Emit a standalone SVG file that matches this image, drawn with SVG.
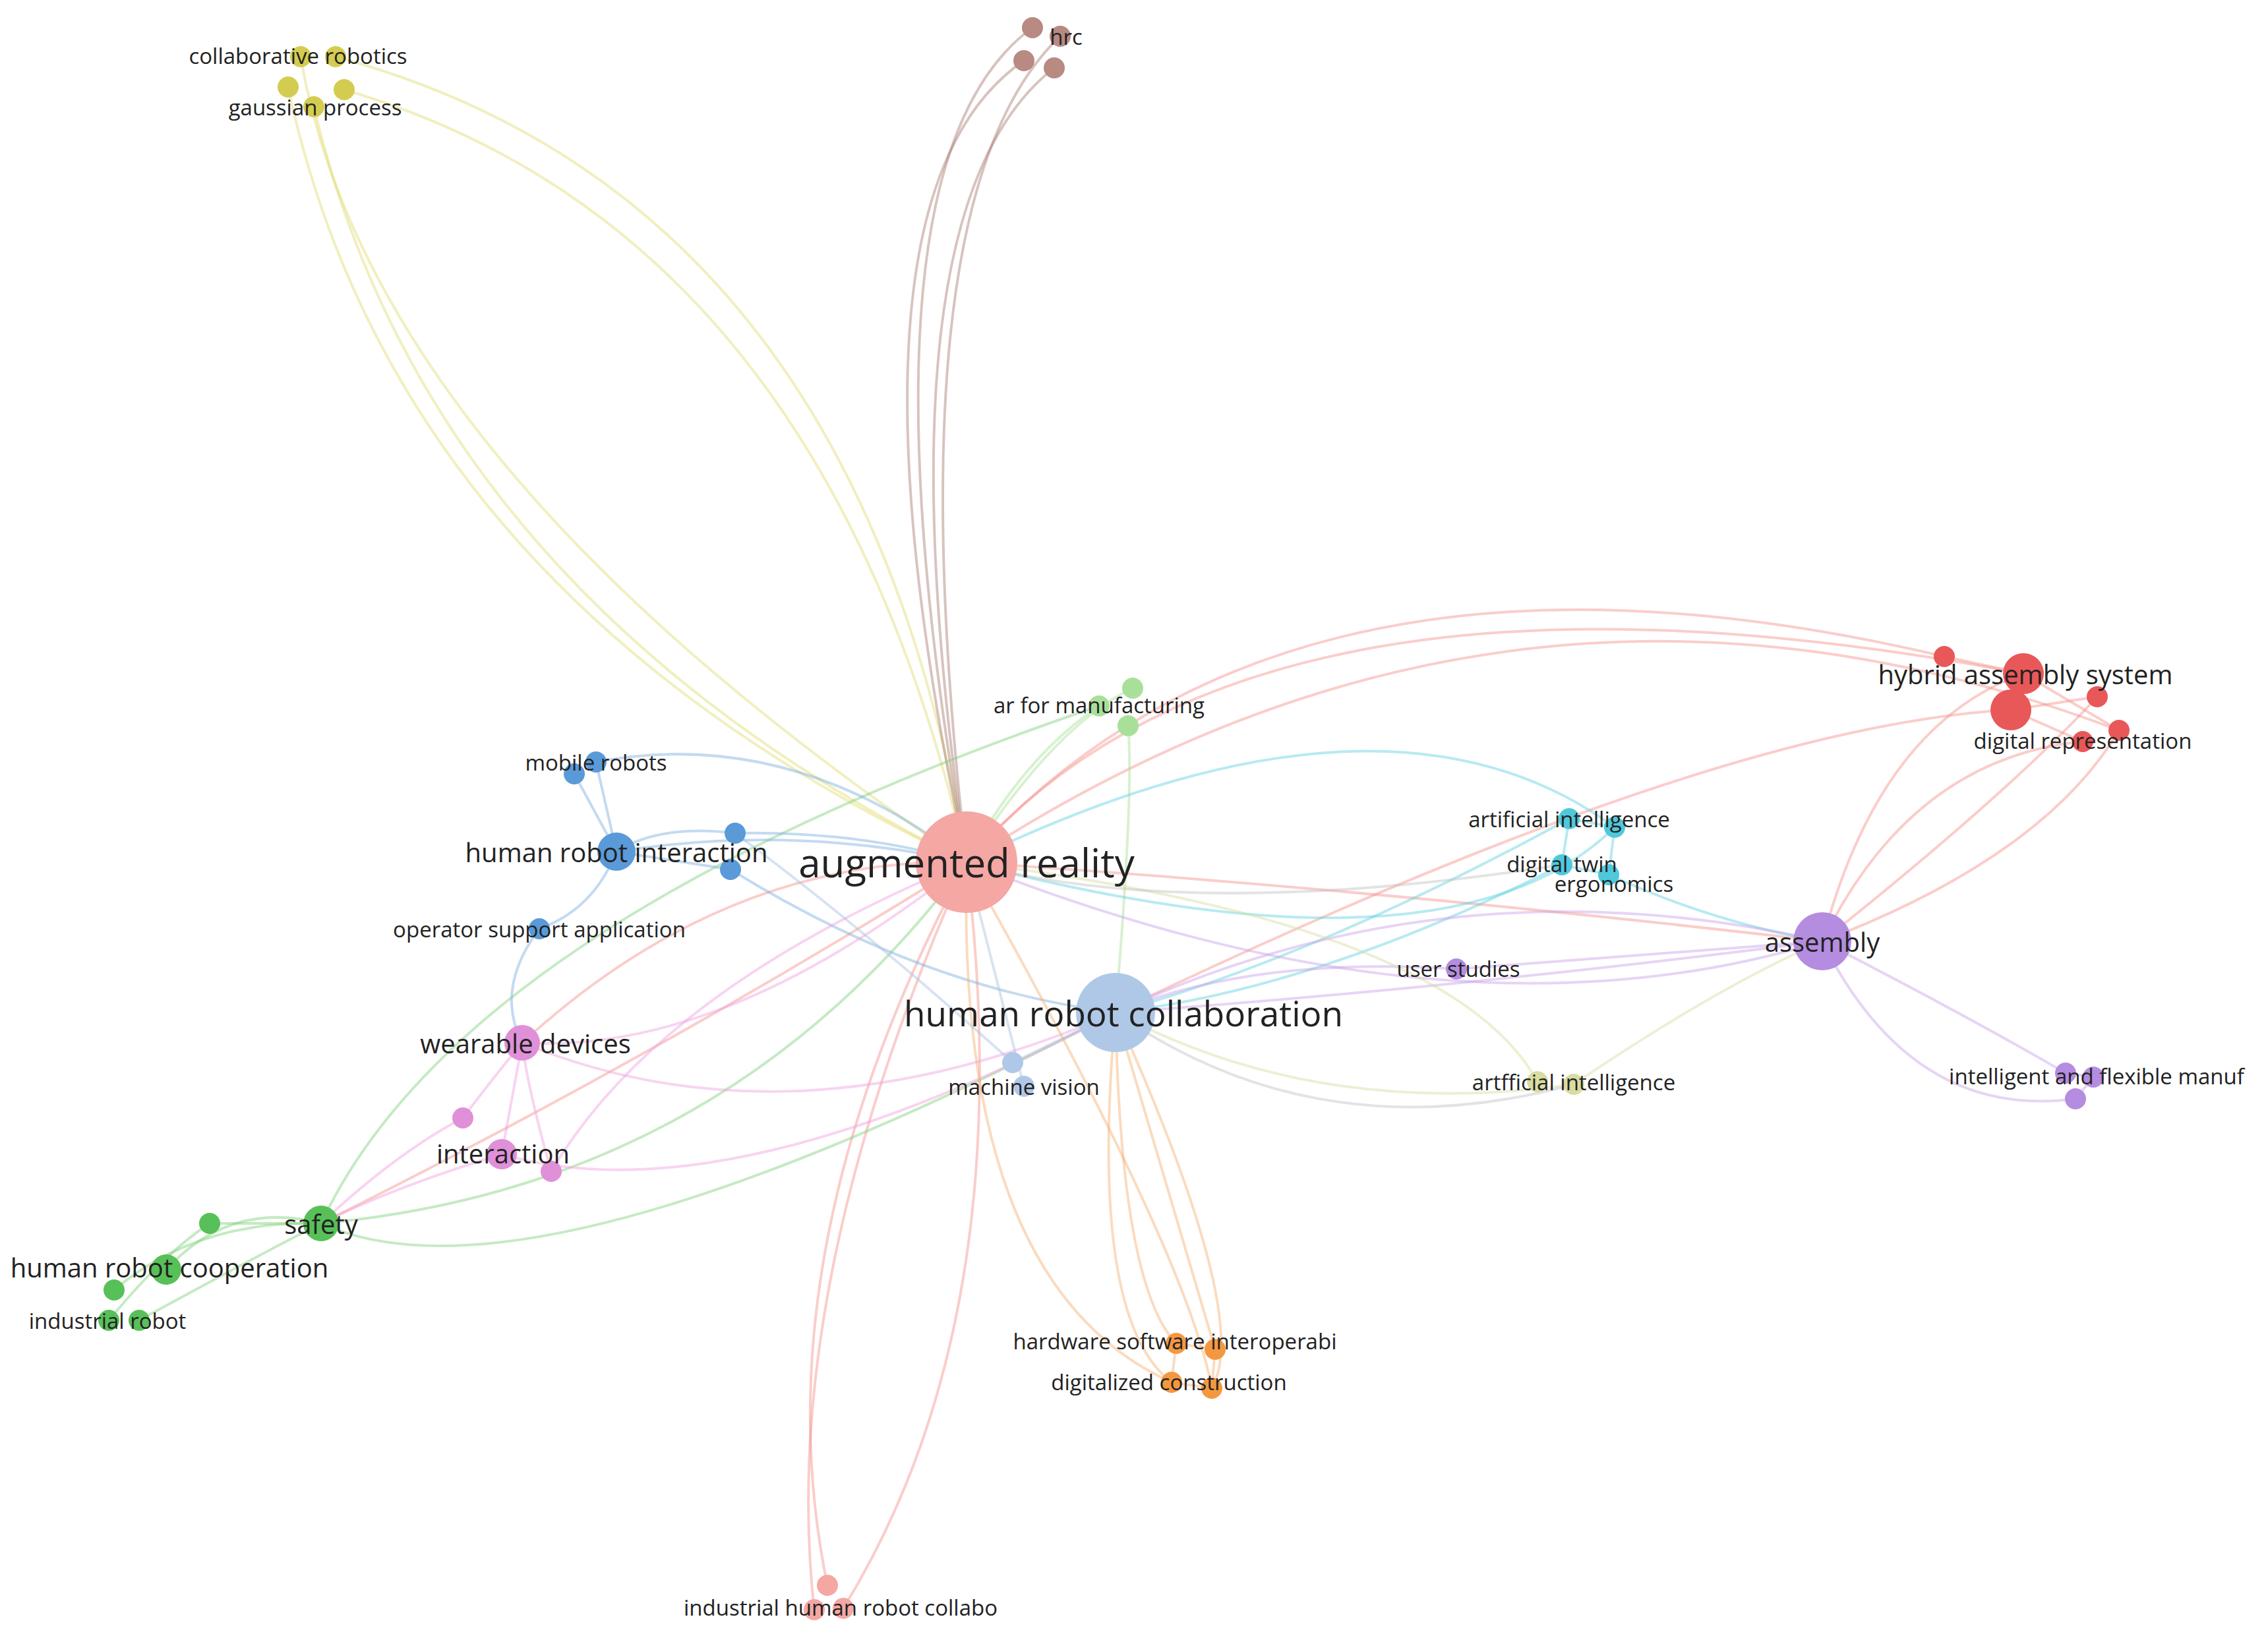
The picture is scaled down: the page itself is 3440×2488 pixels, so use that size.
<svg xmlns="http://www.w3.org/2000/svg" width="3440" height="2488" viewBox="0 0 3440 2488">
<style>
text{font-family:"Open Sans","Noto Sans",sans-serif;fill:#222;text-anchor:middle;dominant-baseline:central}
.s{font-size:33px}.m{font-size:40px}.l{font-size:53px}.xl{font-size:60px}
path{fill:none;stroke-width:4;opacity:.45}
.r{stroke:#f4908a}.y{stroke:#e0dc70}.b{stroke:#a87a72}.g{stroke:#7fd07a}.lg{stroke:#a8e09a}.bl{stroke:#7aaee0}.c{stroke:#60d0e0}.p{stroke:#c8a0e8}.k{stroke:#f0a0e0}.o{stroke:#f4b070}.lb{stroke:#a8c0e0}.py{stroke:#d8dca0}.gr{stroke:#c0c0c0}
</style>
<rect width="3440" height="2488" fill="#fff"/>
<g id="edges">
<path class="y" d="M437 132 Q600 900 1466 1308"/><path class="y" d="M476 162 Q650 900 1466 1308"/>
<path class="y" d="M509 86 Q1300 300 1466 1308"/><path class="y" d="M522 136 Q1250 350 1466 1308"/>
<path class="y" d="M456 86 Q560 700 1466 1308"/>
<path class="b" d="M1553 92 Q1250 300 1466 1308"/><path class="b" d="M1566 42 Q1280 250 1466 1308"/>
<path class="b" d="M1599 103 Q1320 320 1466 1308"/><path class="b" d="M1608 55 Q1350 300 1466 1308"/>
<path class="r" d="M1466 1308 Q1900 800 3069 1022"/><path class="r" d="M1466 1308 Q1950 760 2949 996"/>
<path class="r" d="M1466 1308 Q2300 760 3214 1108"/><path class="r" d="M1692 1536 Q2600 1100 3050 1077"/>
<path class="r" d="M2764 1428 Q2850 1100 3069 1022"/><path class="r" d="M2764 1428 Q2900 1150 3159 1125"/>
<path class="r" d="M2764 1428 Q3100 1300 3214 1108"/><path class="r" d="M2764 1428 Q3050 1200 3181 1057"/>
<path class="r" d="M2949 996 L3069 1022"/><path class="r" d="M3050 1077 L3181 1057"/><path class="r" d="M3069 1022 L3214 1108"/><path class="r" d="M3050 1077 L3159 1125"/>
<path class="r" d="M1466 1308 Q1150 1900 1255 2405"/><path class="r" d="M1466 1308 Q1180 1950 1235 2442"/>
<path class="r" d="M1466 1308 Q1550 2000 1279 2440"/><path class="r" d="M1466 1308 Q2100 1350 2764 1428"/>
<path class="r" d="M1466 1308 Q1000 1600 487 1856"/><path class="r" d="M1466 1308 Q1100 1300 792 1582"/>
<path class="lg" d="M1466 1308 Q1600 1100 1718 1044"/><path class="lg" d="M1692 1536 Q1720 1200 1711 1101"/><path class="lg" d="M1667 1071 Q1550 1150 1466 1308"/>
<path class="g" d="M487 1856 Q700 1400 1667 1071"/><path class="g" d="M487 1856 Q1100 1800 1466 1308"/><path class="g" d="M487 1856 Q800 2000 1692 1536"/>
<path class="g" d="M318 1856 L487 1856"/><path class="g" d="M252 1926 Q350 1820 487 1856"/><path class="g" d="M173 1957 Q300 1850 487 1856"/><path class="g" d="M211 2003 Q400 1900 487 1856"/><path class="g" d="M165 2003 Q250 1900 318 1856"/>
<path class="bl" d="M935 1292 Q1200 1250 1466 1308"/><path class="bl" d="M935 1292 L871 1174"/><path class="bl" d="M935 1292 L904 1156"/><path class="bl" d="M935 1292 Q1000 1250 1115 1264"/><path class="bl" d="M935 1292 L1108 1319"/><path class="bl" d="M935 1292 Q900 1380 818 1409"/>
<path class="bl" d="M904 1156 Q1200 1100 1466 1308"/><path class="bl" d="M1108 1319 Q1400 1500 1692 1536"/><path class="bl" d="M818 1409 Q750 1500 792 1582"/><path class="bl" d="M1115 1264 Q1300 1260 1466 1308"/>
<path class="c" d="M2380 1242 Q2000 1450 1692 1536"/><path class="c" d="M2369 1312 Q2000 1500 1692 1536"/><path class="c" d="M2449 1255 Q2200 1500 1466 1308"/><path class="c" d="M2440 1327 Q2600 1400 2764 1428"/><path class="c" d="M2380 1242 L2449 1255 L2440 1327 L2369 1312 Z"/><path class="c" d="M1466 1308 Q2100 1000 2449 1255"/>
<path class="p" d="M2764 1428 Q2200 1500 1692 1536"/><path class="p" d="M2764 1428 Q2200 1600 1466 1308"/><path class="p" d="M2764 1428 L2209 1470"/><path class="p" d="M2764 1428 Q2900 1700 3148 1667"/><path class="p" d="M2764 1428 Q3000 1550 3133 1628"/><path class="p" d="M3133 1628 L3175 1634 L3148 1667"/><path class="p" d="M2209 1470 Q1900 1450 1692 1536"/><path class="p" d="M2764 1428 Q2200 1300 1692 1536"/>
<path class="py" d="M1466 1308 Q2200 1400 2332 1641"/><path class="py" d="M1692 1536 Q2000 1700 2387 1645"/><path class="py" d="M2387 1645 Q2600 1500 2764 1428"/>
<path class="k" d="M792 1582 Q1100 1600 1466 1308"/><path class="k" d="M792 1582 Q1200 1750 1692 1536"/><path class="k" d="M761 1751 Q1100 1850 1692 1536"/><path class="k" d="M836 1777 Q1000 1500 1466 1308"/><path class="k" d="M702 1696 Q760 1620 792 1582"/><path class="k" d="M761 1751 L792 1582"/><path class="k" d="M836 1777 Q800 1650 792 1582"/><path class="k" d="M761 1751 Q600 1800 487 1856"/><path class="k" d="M702 1696 Q600 1750 487 1856"/>
<path class="lb" d="M1536 1612 L1692 1536"/><path class="lb" d="M1553 1648 L1466 1308"/><path class="lb" d="M1536 1612 Q1300 1400 1115 1264"/>
<path class="o" d="M1692 1536 Q1700 1950 1784 2038"/><path class="o" d="M1692 1536 Q1800 1900 1843 2047"/><path class="o" d="M1692 1536 Q1650 2000 1777 2097"/><path class="o" d="M1692 1536 Q1900 2000 1838 2106"/><path class="o" d="M1466 1308 Q1450 1950 1777 2097"/><path class="o" d="M1466 1308 Q1800 1900 1838 2106"/><path class="o" d="M1784 2038 L1843 2047 L1838 2106 L1777 2097 Z"/>
<path class="gr" d="M1466 1308 Q1800 1400 2369 1312"/><path class="gr" d="M1692 1536 Q2000 1750 2387 1645"/>
</g>
<g id="n-ar"><circle cx="1466" cy="1308" r="77" fill="#f4a7a3"/><text class="xl" x="1466" y="1308">augmented reality</text></g>
<g id="n-hrcol"><circle cx="1692" cy="1536" r="60" fill="#b0c8e8"/><text class="l" x="1704" y="1536">human robot collaboration</text></g>
<g id="n-asm"><circle cx="2764" cy="1428" r="44" fill="#b48ce0"/><text class="m" x="2764" y="1428">assembly</text></g>
<g id="n-red" fill="#e85858"><circle cx="3069" cy="1022" r="31"/><circle cx="3050" cy="1077" r="31"/><circle cx="2949" cy="996" r="16"/><circle cx="3181" cy="1057" r="16"/><circle cx="3214" cy="1108" r="16"/><circle cx="3159" cy="1125" r="16"/><text class="m" x="3072" y="1022">hybrid assembly system</text><text class="s" x="3159" y="1123">digital representation</text></g>
<g id="n-hrc" fill="#b88a82"><circle cx="1566" cy="42" r="16"/><circle cx="1608" cy="55" r="16"/><circle cx="1553" cy="92" r="16"/><circle cx="1599" cy="103" r="16"/><text class="s" x="1617" y="55">hrc</text></g>
<g id="n-yel" fill="#d4cc50"><circle cx="456" cy="86" r="16"/><circle cx="509" cy="86" r="16"/><circle cx="437" cy="132" r="16"/><circle cx="522" cy="136" r="16"/><circle cx="476" cy="162" r="16"/><text class="s" x="452" y="84">collaborative robotics</text><text class="s" x="478" y="162">gaussian process</text></g>
<g id="n-arm" fill="#a8e09a"><circle cx="1718" cy="1044" r="16"/><circle cx="1667" cy="1071" r="16"/><circle cx="1711" cy="1101" r="16"/><text class="s" x="1667" y="1069">ar for manufacturing</text></g>
<g id="n-hri" fill="#5a9ad8"><circle cx="935" cy="1292" r="29"/><circle cx="871" cy="1174" r="16"/><circle cx="904" cy="1156" r="16"/><circle cx="1115" cy="1264" r="16"/><circle cx="1108" cy="1319" r="16"/><circle cx="818" cy="1409" r="16"/><text class="m" x="935" y="1292">human robot interaction</text><text class="s" x="904" y="1156">mobile robots</text><text class="s" x="818" y="1409">operator support application</text></g>
<g id="n-cyan" fill="#50c8dc"><circle cx="2380" cy="1242" r="16"/><circle cx="2449" cy="1255" r="16"/><circle cx="2369" cy="1312" r="16"/><circle cx="2440" cy="1327" r="16"/><text class="s" x="2380" y="1242">artificial intelligence</text><text class="s" x="2369" y="1310">digital twin</text><text class="s" x="2448" y="1340">ergonomics</text></g>
<g id="n-pur" fill="#b48ce0"><circle cx="2209" cy="1470" r="16"/><circle cx="3133" cy="1628" r="16"/><circle cx="3175" cy="1634" r="16"/><circle cx="3148" cy="1667" r="16"/><text class="s" x="2212" y="1469">user studies</text><text class="s" x="3180" y="1632">intelligent and flexible manuf</text></g>
<g id="n-aai" fill="#d8dca0"><circle cx="2332" cy="1641" r="16"/><circle cx="2387" cy="1645" r="16"/><text class="s" x="2387" y="1641">artfficial intelligence</text></g>
<g id="n-mv" fill="#b0c8e8"><circle cx="1536" cy="1612" r="16"/><circle cx="1553" cy="1648" r="16"/><text class="s" x="1553" y="1648">machine vision</text></g>
<g id="n-pink" fill="#e090d8"><circle cx="792" cy="1582" r="27"/><circle cx="702" cy="1696" r="16"/><circle cx="761" cy="1751" r="23"/><circle cx="836" cy="1777" r="16"/><text class="m" x="797" y="1582">wearable devices</text><text class="m" x="763" y="1749">interaction</text></g>
<g id="n-grn" fill="#58c058"><circle cx="487" cy="1856" r="27"/><circle cx="318" cy="1856" r="16"/><circle cx="252" cy="1926" r="23"/><circle cx="173" cy="1957" r="16"/><circle cx="165" cy="2003" r="16"/><circle cx="211" cy="2003" r="16"/><text class="m" x="487" y="1856">safety</text><text class="m" x="257" y="1922">human robot cooperation</text><text class="s" x="163" y="2003">industrial robot</text></g>
<g id="n-org" fill="#f49840"><circle cx="1784" cy="2038" r="16"/><circle cx="1843" cy="2047" r="16"/><circle cx="1777" cy="2097" r="16"/><circle cx="1838" cy="2106" r="16"/><text class="s" x="1782" y="2034">hardware software interoperabi</text><text class="s" x="1773" y="2096">digitalized construction</text></g>
<g id="n-ihrc" fill="#f4a7a3"><circle cx="1255" cy="2405" r="16"/><circle cx="1235" cy="2442" r="16"/><circle cx="1279" cy="2440" r="16"/><text class="s" x="1275" y="2438">industrial human robot collabo</text></g>
</svg>
